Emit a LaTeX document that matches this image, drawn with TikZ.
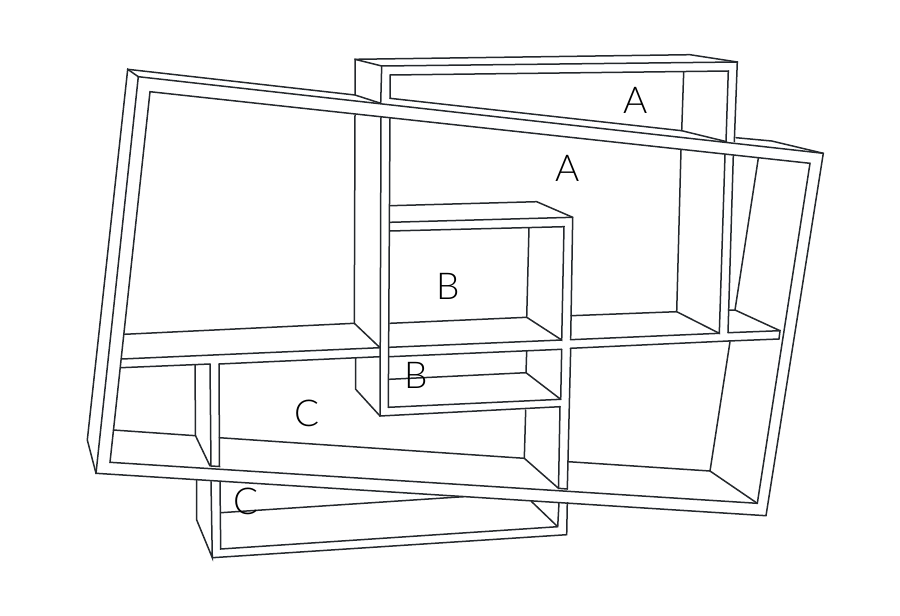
\documentclass[tikz,border=0pt]{standalone}
\usepackage{fontspec}
\setmainfont{Lato Light}
\definecolor{ink}{HTML}{24282C}
\tikzset{
  edgeline/.style={draw=ink,line width=1.5pt,line join=miter,line cap=round},
  letter/.style={inner sep=0pt,text=black,font=\fontsize{37}{37}\selectfont}
}
\begin{document}
\begin{tikzpicture}[x=1pt,y=-1pt]
\useasboundingbox (0,0) rectangle (900,616);
% --- big tilted frame
\draw[edgeline] (138.3,76.7) -- (823.3,153.3) -- (766,515.7) -- (96,473.3) -- cycle;
\draw[edgeline] (150,91.7) -- (810,163.3) -- (757.3,503.3) -- (110,462.3) -- cycle;
\draw[edgeline] (96,473.3) -- (87.3,440) -- (127.7,69.3) -- (138.3,76.7);
\draw[edgeline] (127.7,69.3) -- (355,95) -- (380.7,103.3);
\draw[edgeline] (390,98.3) -- (681.7,130.7) -- (726.7,141.7);
\draw[edgeline] (736,137.7) -- (771.7,141) -- (823.3,153.3);
\draw[edgeline] (758.3,158.3) -- (735,310);
\draw[edgeline] (730,341.7) -- (710,471) -- (757.3,503.3);
\draw[edgeline] (710,471) -- (568.3,461.7);
\draw[edgeline] (113.3,430) -- (195.5,435.7) -- (210,466);
\draw[edgeline] (195,365) -- (195.5,435.7);
% --- long shelf
\draw[edgeline] (124.3,334.3) -- (354.3,323.3) -- (380,347.7);
\draw[edgeline] (121.7,359) -- (380,347.7);
\draw[edgeline] (389.3,347.3) -- (561.7,340);
\draw[edgeline] (570.3,339.7) -- (719.3,333.3);
\draw[edgeline] (728,332.7) -- (780,330.7) -- (779,339) -- (728.3,341);
\draw[edgeline] (728.3,310) -- (735,310) -- (780,330.7);
\draw[edgeline] (728.3,341) -- (570.3,348.3);
\draw[edgeline] (561.7,349.3) -- (389.3,356.7);
\draw[edgeline] (380,356.7) -- (219,364);
\draw[edgeline] (120.7,367.7) -- (210,364);
% --- box A
\draw[edgeline] (355,95) -- (355,59.3) -- (381.7,66) -- (380.7,103.3);
\draw[edgeline] (355,59.3) -- (690,54.7) -- (737.3,62);
\draw[edgeline] (381.7,66) -- (737.3,62) -- (734.3,141.7);
\draw[edgeline] (390,98.3) -- (390,75) -- (728.3,71) -- (726,141.7);
\draw[edgeline] (683.7,72) -- (681.7,130.7);
\draw[edgeline] (681,150) -- (676.7,311.7) -- (719.3,333.3) -- (725,155);
\draw[edgeline] (676.7,311.7) -- (571,315.7);
\draw[edgeline] (733.3,155.7) -- (728,332.7);
\draw[edgeline] (355,115) -- (354.3,323.3);
\draw[edgeline] (355.7,357.7) -- (355.7,389.3) -- (380,416);
\draw[edgeline] (381,116.7) -- (380,416) -- (560,406.7);
\draw[edgeline] (390,118.3) -- (388.3,407.3);
% --- box B
\draw[edgeline] (390,205.7) -- (536.7,201.7) -- (572.7,217.3) -- (570.7,338.3);
\draw[edgeline] (390,222.3) -- (572.7,217.3);
\draw[edgeline] (390,231) -- (564,226.7) -- (561.7,340) -- (526.7,317.3) -- (529,227.7);
\draw[edgeline] (526.7,317.3) -- (390,323.3);
\draw[edgeline] (561.7,349.3) -- (560.7,399.3) -- (388.3,407.3);
\draw[edgeline] (526.7,350.7) -- (526,372.7) -- (560.7,399.3);
\draw[edgeline] (526,372.7) -- (389.3,379.3);
\draw[edgeline] (570.7,348.3) -- (567.3,489);
% --- box C
\draw[edgeline] (210,364) -- (211,466) -- (219.5,466.5) -- (219,364);
\draw[edgeline] (219.3,437.7) -- (524.3,458.3) -- (558.5,488.3) -- (567.3,489);
\draw[edgeline] (525.7,410) -- (524.3,458.3);
\draw[edgeline] (560,406.7) -- (558.5,488.3);
\draw[edgeline] (196.7,480) -- (196.7,520) -- (212.3,557.7) -- (211,481.7);
\draw[edgeline] (220,481.7) -- (220.7,549) -- (557.7,526.7) -- (559,502.7);
\draw[edgeline] (212.3,557.7) -- (566.7,534.7) -- (567.3,502.7);
\draw[edgeline] (220.7,512.7) -- (463.3,496.7);
\draw[edgeline] (531.7,501.7) -- (557.7,526.7);
% --- labels
\node[letter] (a1) at (568,168.3) {A};
\node[letter] (a2) at (635.5,100) {A};
\node[letter] (b1) at (448,286.7) {B};
\node[letter] (b2) at (416,375) {B};
\node[letter] (c1) at (307,413) {C};
\node[letter] (c2) at (246,501.7) {C};
\end{tikzpicture}
\end{document}
